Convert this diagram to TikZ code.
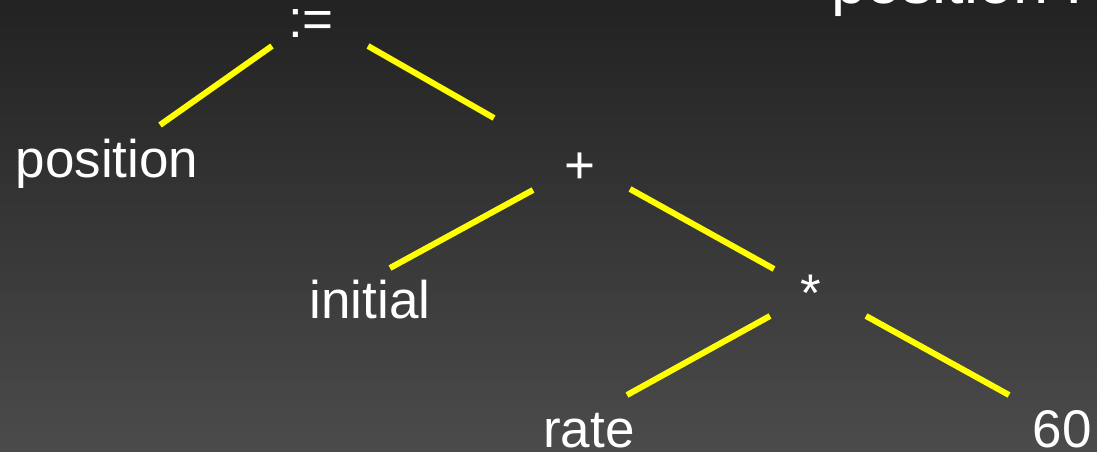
\documentclass[tikz,border=0pt]{standalone}
\usepackage{fontspec}
\setmainfont{Liberation Sans}
\usepackage{xcolor}
\definecolor{bgtop}{HTML}{222222}
\definecolor{bgbot}{HTML}{4B4B4B}
\definecolor{branch}{HTML}{FFFF00}
\tikzset{
  term/.style={text=white,anchor=base,inner sep=0pt,font=\fontsize{53}{60}\selectfont},
  heading/.style={text=white,anchor=base west,inner sep=0pt,font=\fontsize{63}{70}\selectfont},
  link/.style={draw=branch,line width=6pt,line cap=butt}
}
\begin{document}
\begin{tikzpicture}[x=1pt,y=-1pt]
    \shade[top color=bgtop,bottom color=bgbot] (0,0) rectangle (1097,451);
    \useasboundingbox (0,0) rectangle (1097,451);

    \node[heading] (stmt) at (831,3) {position :=};

    \node[term] (assign) at (311,37) {:=};
    \node[term] (pos) at (107,177) {position};
    \node[term] (plus) at (580,183) {+};
    \node[term] (init) at (370,318) {initial};
    \node[term] (times) at (811,311) {*};
    \node[term] (rate) at (589,447) {rate};
    \node[term] (sixty) at (1062,447) {60};

    \draw[link] ([shift={(-39,9)}]assign.base) -- ([shift={(53,-52)}]pos.base);
    \draw[link] ([shift={(57,9)}]assign.base) -- ([shift={(-86,-65)}]plus.base);
    \draw[link] ([shift={(-47,7)}]plus.base) -- ([shift={(20,-50)}]init.base);
    \draw[link] ([shift={(50,6)}]plus.base) -- ([shift={(-37,-42)}]times.base);
    \draw[link] ([shift={(-41,5)}]times.base) -- ([shift={(38,-52)}]rate.base);
    \draw[link] ([shift={(55,5)}]times.base) -- ([shift={(-53,-52)}]sixty.base);
  \end{tikzpicture}
\end{document}
